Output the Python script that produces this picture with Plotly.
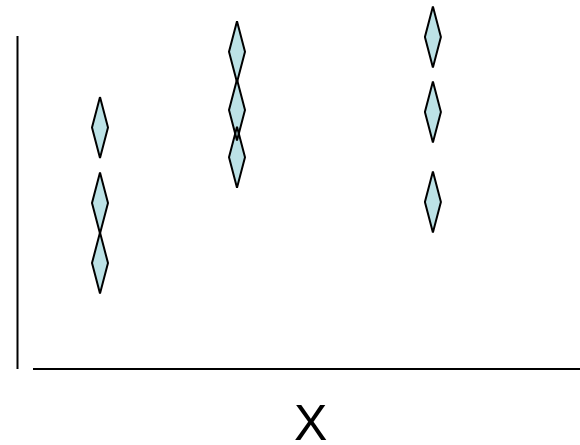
import plotly.graph_objects as go

# Data (arbitrary units)
group_x = [1.0, 2.0, 3.43]
group_values = [
    [7.32, 5.03, 3.21],
    [9.61, 7.85, 6.42],
    [10.06, 7.79, 5.06],
]
x_label = "X"

# Layout constants
W, H = 580, 445
PX_PER_X = 137.0
PX_PER_Y = 33.0
PLOT_H = 369
x_min = 1.0 - 100.0 / PX_PER_X
x_max = 1.0 + 480.0 / PX_PER_X
y_max = PLOT_H / PX_PER_Y

half_w = 8.0 / PX_PER_X
half_h = 30.5 / PX_PER_Y

xs, ys = [], []
for gx, vals in zip(group_x, group_values):
    for v in vals:
        xs += [gx, gx + half_w, gx, gx - half_w, gx, None]
        ys += [v + half_h, v, v - half_h, v, v + half_h, None]

fig = go.Figure()
fig.add_trace(go.Scatter(
    x=xs, y=ys, mode="lines", fill="toself",
    fillcolor="#bce2e6",
    line=dict(color="black", width=2),
    hoverinfo="skip", showlegend=False,
))

fig.update_layout(
    width=W, height=H,
    margin=dict(l=0, r=0, t=0, b=H - PLOT_H),
    paper_bgcolor="white", plot_bgcolor="white",
    xaxis=dict(range=[x_min, x_max], visible=False),
    yaxis=dict(range=[0, y_max], visible=False),
    shapes=[
        dict(type="line", xref="paper", yref="paper",
             x0=17.5 / W, x1=17.5 / W, y0=0, y1=(PLOT_H - 36) / PLOT_H,
             line=dict(color="black", width=2)),
        dict(type="line", xref="paper", yref="paper",
             x0=33 / W, x1=1, y0=0, y1=0,
             line=dict(color="black", width=2)),
    ],
    annotations=[
        dict(text=x_label, xref="paper", yref="paper",
             x=310.5 / W, y=-(423 - PLOT_H) / PLOT_H,
             xanchor="center", yanchor="middle", showarrow=False,
             font=dict(family="Liberation Sans, Arial", size=50, color="black")),
    ],
)

fig.write_html(
    "out.html",
    config={"displayModeBar": False},
    post_script="document.body.style.margin='0';document.body.style.overflow='hidden';",
)
